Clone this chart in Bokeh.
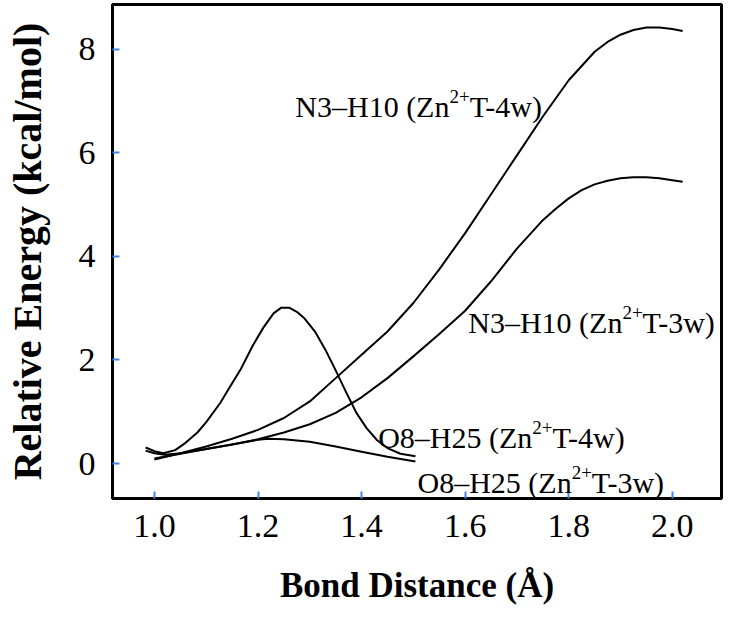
from bokeh.plotting import figure
from bokeh.models import Range1d, Label, FixedTicker, NumeralTickFormatter
from bokeh.embed import file_html
from bokeh.resources import INLINE

# ---- data ----
x_n3_4w = [1.00, 1.05, 1.10, 1.15, 1.20, 1.25, 1.30, 1.35, 1.40, 1.45, 1.50, 1.55,
           1.60, 1.65, 1.70, 1.75, 1.80, 1.85, 1.875, 1.90, 1.925, 1.95, 1.975, 2.00, 2.02]
e_n3_4w = [0.08, 0.20, 0.33, 0.48, 0.65, 0.88, 1.20, 1.65, 2.10, 2.55, 3.10, 3.75,
           4.45, 5.20, 5.95, 6.70, 7.40, 7.95, 8.14, 8.28, 8.37, 8.42, 8.42, 8.39, 8.35]

x_n3_3w = [1.00, 1.05, 1.10, 1.15, 1.20, 1.25, 1.30, 1.35, 1.40, 1.45, 1.50, 1.55,
           1.60, 1.65, 1.70, 1.75, 1.775, 1.80, 1.825, 1.85, 1.875, 1.90, 1.925, 1.95,
           1.975, 2.00, 2.02]
e_n3_3w = [0.10, 0.19, 0.28, 0.37, 0.47, 0.60, 0.76, 0.98, 1.28, 1.65, 2.07, 2.50,
           2.95, 3.52, 4.15, 4.70, 4.92, 5.12, 5.28, 5.39, 5.46, 5.51, 5.53, 5.53,
           5.51, 5.47, 5.44]

x_o8_4w = [0.983, 1.00, 1.017, 1.04, 1.06, 1.083, 1.10, 1.127, 1.15, 1.166, 1.19, 1.21,
           1.23, 1.245, 1.26, 1.275, 1.29, 1.31, 1.33, 1.35, 1.37, 1.39, 1.41, 1.43,
           1.45, 1.475, 1.504]
e_o8_4w = [0.31, 0.24, 0.20, 0.26, 0.40, 0.60, 0.80, 1.17, 1.55, 1.81, 2.28, 2.62,
           2.90, 3.01, 3.01, 2.93, 2.80, 2.55, 2.20, 1.80, 1.38, 0.98, 0.68, 0.45,
           0.30, 0.19, 0.14]

x_o8_3w = [0.983, 1.00, 1.02, 1.05, 1.10, 1.15, 1.20, 1.22, 1.25, 1.30, 1.35, 1.40,
           1.45, 1.504]
e_o8_3w = [0.25, 0.20, 0.17, 0.20, 0.28, 0.37, 0.46, 0.48, 0.47, 0.42, 0.33, 0.23,
           0.13, 0.04]

x_ticks = [1.0, 1.2, 1.4, 1.6, 1.8, 2.0]
y_ticks = [0, 2, 4, 6, 8]

# annotation texts: (before superscript, superscript, after superscript)
ann_parts = [
    ("N3\u2013H10 (Zn", "2+", "T-4w)"),
    ("N3\u2013H10 (Zn", "2+", "T-3w)"),
    ("O8\u2013H25 (Zn", "2+", "T-4w)"),
    ("O8\u2013H25 (Zn", "2+", "T-3w)"),
]
ann_x = [1.272, 1.606, 1.432, 1.508]
ann_y = [6.90, 2.72, 0.50, -0.37]

FONT = "Liberation Serif"
ANN_SIZE = 30
SUP_SIZE = 19

# Times / Liberation Serif advance widths (em) for width of text pieces
ADV = {"N": .722, "O": .722, "H": .722, "Z": .611, "T": .611, "n": .5, "w": .722,
       "0": .5, "1": .5, "2": .5, "3": .5, "4": .5, "5": .5, "8": .5,
       " ": .25, "(": .333, ")": .333, "-": .333, "\u2013": .5, "+": .564}


def text_width(s, size):
    return sum(ADV.get(c, .5) for c in s) * size


p = figure(width=723, height=607, output_backend="svg", toolbar_location=None,
           x_range=Range1d(0.919, 2.095), y_range=Range1d(-0.674, 8.863),
           min_border_left=112, min_border_right=2, min_border_top=4,
           min_border_bottom=108)

p.grid.visible = False
p.outline_line_color = "black"
p.outline_line_width = 3
p.background_fill_color = "white"
p.border_fill_color = "white"

for xs, ys in [(x_n3_4w, e_n3_4w), (x_n3_3w, e_n3_3w),
               (x_o8_4w, e_o8_4w), (x_o8_3w, e_o8_3w)]:
    p.line(xs, ys, line_color="black", line_width=2, line_join="round")

for ax in (p.xaxis[0], p.yaxis[0]):
    ax.axis_line_color = "black"
    ax.axis_line_width = 3
    ax.major_tick_in = 7
    ax.major_tick_out = 0
    ax.major_tick_line_color = "#3d85f0"
    ax.major_tick_line_width = 2
    ax.minor_tick_line_color = None
    ax.major_label_text_font = FONT
    ax.major_label_text_font_size = "34px"
    ax.major_label_text_color = "black"
    ax.axis_label_text_font = FONT
    ax.axis_label_text_font_style = "bold"
    ax.axis_label_text_color = "black"

p.xaxis.ticker = FixedTicker(ticks=x_ticks)
p.yaxis.ticker = FixedTicker(ticks=y_ticks)
p.xaxis.formatter = NumeralTickFormatter(format="0.0")
p.xaxis.axis_label = "Bond Distance (\u00c5)"
p.yaxis.axis_label = "Relative Energy (kcal/mol)"
p.xaxis.axis_label_text_font_size = "35px"
p.yaxis.axis_label_text_font_size = "40px"
p.xaxis.major_label_standoff = 16
p.yaxis.major_label_standoff = 17
p.xaxis.axis_label_standoff = 26
p.yaxis.axis_label_standoff = 26

for (a, s, b), xa, ya in zip(ann_parts, ann_x, ann_y):
    wa = text_width(a, ANN_SIZE)
    ws = text_width(s, SUP_SIZE)
    p.add_layout(Label(x=xa, y=ya, text=a, text_font=FONT,
                       text_font_size=f"{ANN_SIZE}px", text_baseline="alphabetic",
                       text_color="black"))
    p.add_layout(Label(x=xa, y=ya, x_offset=wa, y_offset=10, text=s, text_font=FONT,
                       text_font_size=f"{SUP_SIZE}px", text_baseline="alphabetic",
                       text_color="black"))
    p.add_layout(Label(x=xa, y=ya, x_offset=wa + ws, text=b, text_font=FONT,
                       text_font_size=f"{ANN_SIZE}px", text_baseline="alphabetic",
                       text_color="black"))

open("out.html", "w").write(file_html(p, INLINE))
